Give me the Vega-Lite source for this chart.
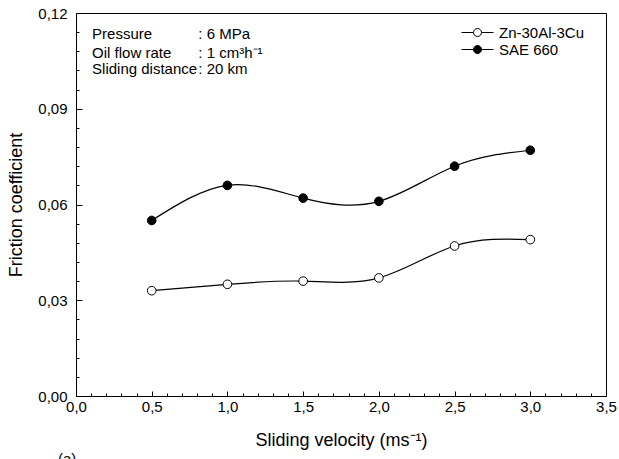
{
  "$schema": "https://vega.github.io/schema/vega-lite/v6.json",
  "width": 530,
  "height": 383,
  "autosize": "none",
  "padding": {"left": 76, "top": 13, "right": 13, "bottom": 63},
  "background": "white",
  "config": {
    "font": "Liberation Sans",
    "view": {"stroke": "black", "strokeWidth": 1},
    "axis": {
      "grid": false,
      "domain": false,
      "tickColor": "black",
      "tickWidth": 1,
      "labelColor": "black",
      "titleColor": "black",
      "labelFont": "Liberation Sans",
      "titleFont": "Liberation Sans",
      "labelFontSize": 15,
      "titleFontSize": 18,
      "titleFontWeight": "normal",
      "labelFlush": false,
      "labelOverlap": false
    },
    "legend": {"labelFont": "Liberation Sans", "labelFontSize": 15, "labelColor": "black"}
  },
  "resolve": {"axis": {"x": "independent", "y": "independent"}},
  "datasets": {
    "series": [
      {"velocity": 0.5, "friction": 0.033, "material": "Zn-30Al-3Cu"},
      {"velocity": 1.0, "friction": 0.035, "material": "Zn-30Al-3Cu"},
      {"velocity": 1.5, "friction": 0.036, "material": "Zn-30Al-3Cu"},
      {"velocity": 2.0, "friction": 0.037, "material": "Zn-30Al-3Cu"},
      {"velocity": 2.5, "friction": 0.047, "material": "Zn-30Al-3Cu"},
      {"velocity": 3.0, "friction": 0.049, "material": "Zn-30Al-3Cu"},
      {"velocity": 0.5, "friction": 0.055, "material": "SAE 660"},
      {"velocity": 1.0, "friction": 0.066, "material": "SAE 660"},
      {"velocity": 1.5, "friction": 0.062, "material": "SAE 660"},
      {"velocity": 2.0, "friction": 0.061, "material": "SAE 660"},
      {"velocity": 2.5, "friction": 0.072, "material": "SAE 660"},
      {"velocity": 3.0, "friction": 0.077, "material": "SAE 660"}
    ],
    "notes": [
      {"x": 0.106, "y": 0.1117, "text": "Pressure"},
      {"x": 0.106, "y": 0.1060, "text": "Oil flow rate"},
      {"x": 0.106, "y": 0.1008, "text": "Sliding distance"},
      {"x": 0.808, "y": 0.1117, "text": ": 6 MPa"},
      {"x": 0.808, "y": 0.1060, "text": ": 1 cm³h⁻¹"},
      {"x": 0.808, "y": 0.1008, "text": ": 20 km"},
      {"x": -0.119, "y": -0.0212, "text": "(a)"}
    ]
  },
  "layer": [
    {
      "data": {"name": "series"},
      "mark": {"type": "line", "interpolate": "natural", "color": "black", "strokeWidth": 1.2},
      "encoding": {
        "x": {
          "field": "velocity", "type": "quantitative",
          "scale": {"domain": [0, 3.5], "nice": false, "zero": false},
          "axis": {
            "orient": "bottom",
            "offset": -5,
            "title": "Sliding velocity (ms⁻¹)",
            "values": [0, 0.5, 1, 1.5, 2, 2.5, 3, 3.5],
            "labelExpr": "replace(format(datum.value, '.1f'), '.', ',')",
            "tickSize": 5,
            "labelPadding": 3,
            "titlePadding": 17
          }
        },
        "y": {
          "field": "friction", "type": "quantitative",
          "scale": {"domain": [0, 0.12], "nice": false, "zero": false},
          "axis": {
            "orient": "left",
            "offset": -6,
            "title": "Friction coefficient",
            "values": [0, 0.03, 0.06, 0.09, 0.12],
            "labelExpr": "replace(format(datum.value, '.2f'), '.', ',')",
            "tickSize": 6,
            "labelPadding": 9,
            "titlePadding": 12
          }
        },
        "detail": {"field": "material"}
      }
    },
    {
      "data": {"name": "series"},
      "mark": {"type": "point", "filled": true, "size": 75, "stroke": "black", "strokeWidth": 1, "opacity": 1},
      "encoding": {
        "x": {
          "field": "velocity", "type": "quantitative",
          "axis": {
            "orient": "bottom",
            "offset": -3,
            "title": null,
            "labels": false,
            "values": [0.1,0.2,0.3,0.4,0.6,0.7,0.8,0.9,1.1,1.2,1.3,1.4,1.6,1.7,1.8,1.9,2.1,2.2,2.3,2.4,2.6,2.7,2.8,2.9,3.1,3.2,3.3,3.4],
            "tickSize": 3
          }
        },
        "y": {
          "field": "friction", "type": "quantitative",
          "axis": {
            "orient": "left",
            "offset": -3,
            "title": null,
            "labels": false,
            "values": [0.006,0.012,0.018,0.024,0.036,0.042,0.048,0.054,0.066,0.072,0.078,0.084,0.096,0.102,0.108,0.114],
            "tickSize": 3
          }
        },
        "fill": {
          "field": "material", "type": "nominal",
          "scale": {"domain": ["Zn-30Al-3Cu", "SAE 660"], "range": ["white", "black"]},
          "legend": {
            "title": null,
            "orient": "none",
            "legendX": 394,
            "legendY": 12,
            "symbolType": "M-4,0L-1,0M1,0L4,0M-1,0A1,1,0,1,1,1,0A1,1,0,1,1,-1,0Z",
            "symbolSize": 64,
            "symbolStrokeColor": "black",
            "symbolStrokeWidth": 1,
            "symbolOpacity": 1,
            "labelOffset": 14,
            "rowPadding": 1
          }
        }
      }
    },
    {
      "data": {"name": "notes"},
      "mark": {"type": "text", "align": "left", "baseline": "alphabetic", "fontSize": 15, "color": "black", "font": "Liberation Sans"},
      "encoding": {
        "x": {"field": "x", "type": "quantitative", "axis": null},
        "y": {"field": "y", "type": "quantitative", "axis": null},
        "text": {"field": "text"}
      }
    }
  ]
}
